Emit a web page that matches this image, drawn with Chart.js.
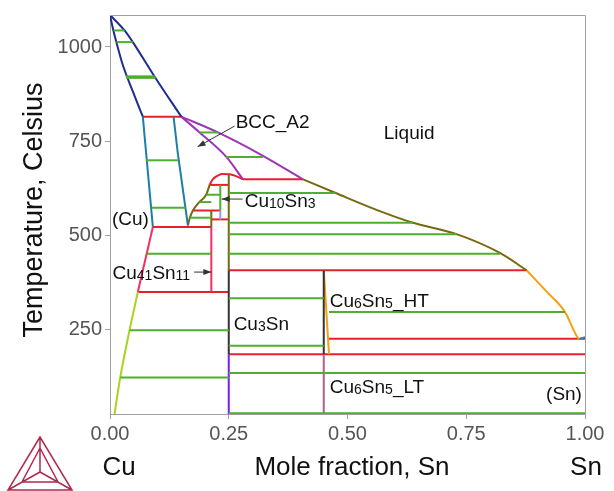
<!DOCTYPE html>
<html>
<head>
<meta charset="utf-8">
<script src="https://cdn.jsdelivr.net/npm/chart.js@4.4.1/dist/chart.umd.min.js"></script>
<style>
  html, body { margin: 0; padding: 0; background: #fff; }
</style>
</head>
<body>
<canvas id="phaseChart" width="614" height="491"></canvas>
<script>
// axis ticks
const xTicks = [0, 0.25, 0.5, 0.75, 1.0];
const yTicks = [250, 500, 750, 1000];

// phase boundaries, [mole fraction Sn, T in Celsius]
const fccLiquidus = [[0, 1085], [0.0306, 1044], [0.048, 1013], [0.094, 921], [0.150, 815]];
const fccSolidus = [[0, 1085], [0.006, 1050], [0.013, 1015], [0.027, 952], [0.048, 882], [0.0691, 815]];
const bccLiquidus = [[0.150, 815], [0.2272, 773], [0.322, 711], [0.4063, 648.5]];
const bccSolidus = [[0.150, 815], [0.1886, 773], [0.2449, 708], [0.2799, 648.5]];
const fccSolvusHigh = [[0.0691, 815], [0.0902, 522]];
const bccSolvus = [[0.1338, 815], [0.1429, 716], [0.164, 526]];
const gammaLeft = [[0.164, 526], [0.168, 546], [0.1745, 565.6], [0.188, 588], [0.2027, 608], [0.2097, 633.6]];
const gammaTop = [[0.2097, 633.6], [0.216, 648], [0.225, 657], [0.236, 662.5], [0.252, 662], [0.265, 657], [0.2799, 648.5]];
const gammaLiquidus = [[0.4063, 648.5], [0.475, 612], [0.568, 564], [0.638, 533], [0.7296, 503], [0.8209, 453], [0.8771, 407]];
const cu6sn5Liquidus = [[0.8771, 407], [0.9193, 350], [0.9579, 296], [0.9825, 232], [0.9874, 224]];
const deltaSolvus = [[0.0902, 522], [0.0586, 349]];
const fccSolvusLow = [[0.0586, 349], [0.0411, 247.4], [0.0215, 121.8], [0.0095, 25]];
const snSolvus = [[0.99, 225], [1.0, 229]];

// vertical compound lines [x, T top, T bottom]
const cu10sn3Line = [0.2322, 633.6, 565.6];
const cu10sn3Low = [0.2322, 565.6, 542];
const cu41sn11Top = [0.2133, 565.6, 522];
const cu41sn11Line = [0.2133, 522, 349];
const cu3snHigh = [0.25, 662, 407];
const cu3snMid = [0.25, 407, 184];
const cu3snLow = [0.25, 184, 25];
const cu6sn5HT = [0.45, 407, 184];
const cu6sn5LT = [0.45, 184, 25];
const cu6sn5HTRight = [[0.45, 407], [0.4611, 184]];

// tie lines [T, x from, x to]
const tieLines = [
  [1044, 0.0075, 0.0306], [1013, 0.0135, 0.048], [922, 0.033, 0.094], [918, 0.034, 0.096],
  [773, 0.1886, 0.2272], [708, 0.2449, 0.322],
  [699, 0.0763, 0.1429], [572.7, 0.0875, 0.159],
  [607.5, 0.2027, 0.2322], [588, 0.188, 0.2133], [546.5, 0.168, 0.2133],
  [612, 0.25, 0.475], [533.4, 0.25, 0.638], [502.8, 0.25, 0.7296], [451, 0.25, 0.8209],
  [451, 0.077, 0.2133],
  [247.4, 0.0411, 0.25], [121.8, 0.0215, 0.25],
  [332.7, 0.25, 0.45], [206.3, 0.25, 0.45], [134, 0.25, 1.0], [27, 0.25, 1.0],
  [296, 0.4611, 0.9579]
];

// invariant reactions [T, x from, x to]
const invariants = [
  [815, 0.0691, 0.150], [648.5, 0.2799, 0.4063], [633.6, 0.2097, 0.25],
  [565.6, 0.1745, 0.2322], [542, 0.2133, 0.25], [522, 0.0902, 0.2133],
  [407, 0.25, 0.8771], [349, 0.0586, 0.25], [225, 0.4611, 1.0], [184, 0.25, 1.0]
];

// phase labels: text parts ([text, isSub]), x, T
const phaseLabels = [
  { parts: [['BCC_A2', 0]], x: 0.2645, t: 803 },
  { parts: [['Liquid', 0]], x: 0.5764, t: 774 },
  { parts: [['(Cu)', 0]], x: 0.004, t: 546 },
  { parts: [['Cu', 0], ['10', 1], ['Sn', 0], ['3', 1]], x: 0.2835, t: 593 },
  { parts: [['Cu', 0], ['41', 1], ['Sn', 0], ['11', 1]], x: 0.0053, t: 402 },
  { parts: [['Cu', 0], ['3', 1], ['Sn', 0]], x: 0.2603, t: 266 },
  { parts: [['Cu', 0], ['6', 1], ['Sn', 0], ['5', 1], ['_HT', 0]], x: 0.4627, t: 329 },
  { parts: [['Cu', 0], ['6', 1], ['Sn', 0], ['5', 1], ['_LT', 0]], x: 0.4627, t: 99 },
  { parts: [['(Sn)', 0]], x: 0.918, t: 80 }
];
// pointer arrows [x from, T from, x to, T to]
const arrows = [
  [0.2624, 790, 0.1844, 735],
  [0.2792, 596, 0.2350, 596],
  [0.1770, 402, 0.2133, 402]
];

const FONT = '"Liberation Sans", Arial, Helvetica, sans-serif';
const GREEN = '#4fae2f', RED = '#e8202e', PINK = '#f2305e', NAVY = '#1f2d8f',
      PURPLE = '#9b35b5', TEAL = '#1c7fa3', OLIVE = '#77690f', ORANGE = '#f5a00f',
      LIME = '#a8d41c', VIOLET = '#7a1cff', DARK = '#333333', MAUVE = '#b0608f';

function line(points, color, width, smooth) {
  // monotone spline needs points ordered along x
  const pts = smooth ? points.slice().sort((a, b) => a[0] - b[0]) : points;
  return {
    data: pts.map(p => ({ x: p[0], y: p[1] })),
    showLine: true,
    borderColor: color,
    borderWidth: width || 2,
    pointRadius: 0,
    cubicInterpolationMode: smooth ? 'monotone' : 'default',
    tension: 0,
    fill: false
  };
}
function vline(v, color) {
  return line([[v[0], v[1]], [v[0], v[2]]], color, 2);
}

const datasets = [];
tieLines.forEach(([t, x1, x2]) => datasets.push(line([[x1, t], [x2, t]], GREEN, 2)));
datasets.push(line(fccLiquidus, NAVY, 2, true));
datasets.push(line(fccSolidus, NAVY, 2, true));
datasets.push(line(bccLiquidus, PURPLE, 2, true));
datasets.push(line(bccSolidus, PURPLE, 2, true));
datasets.push(line(fccSolvusHigh, TEAL, 2));
datasets.push(line(bccSolvus, TEAL, 2));
datasets.push(line(gammaLeft, OLIVE, 2, true));
datasets.push(line(gammaLiquidus, OLIVE, 2, true));
datasets.push(line(cu6sn5Liquidus, ORANGE, 2, true));
datasets.push(line(deltaSolvus, PINK, 2));
datasets.push(line(fccSolvusLow, LIME, 2, true));
datasets.push(line(snSolvus, '#2080e0', 2));
datasets.push(vline(cu10sn3Line, GREEN));
datasets.push(vline(cu10sn3Low, '#8c9cff'));
datasets.push(vline(cu41sn11Top, OLIVE));
datasets.push(vline(cu41sn11Line, PINK));
datasets.push(vline(cu3snHigh, OLIVE));
datasets.push(vline(cu3snMid, DARK));
datasets.push(vline(cu3snLow, VIOLET));
datasets.push(vline(cu6sn5HT, DARK));
datasets.push(line(cu6sn5HTRight, ORANGE, 2));
datasets.push(vline(cu6sn5LT, MAUVE));
invariants.forEach(([t, x1, x2]) => datasets.push(line([[x1, t], [x2, t]], RED, 2)));
datasets.push(line(gammaTop, RED, 2, true));

function drawChem(ctx, parts, x, y) {
  let cx = x;
  parts.forEach(([txt, sub]) => {
    ctx.font = (sub ? '14px ' : '19px ') + FONT;
    ctx.fillText(txt, cx, sub ? y + 1 : y);
    cx += ctx.measureText(txt).width;
  });
}

const decorations = {
  id: 'decorations',
  afterDatasetsDraw(chart) {
    const { ctx, scales: { x, y } } = chart;
    ctx.save();
    ctx.fillStyle = '#111';
    ctx.textBaseline = 'alphabetic';
    ctx.textAlign = 'left';
    phaseLabels.forEach(l => drawChem(ctx, l.parts, x.getPixelForValue(l.x), y.getPixelForValue(l.t) + 7));
    ctx.strokeStyle = '#333';
    ctx.fillStyle = '#333';
    ctx.lineWidth = 1;
    arrows.forEach(([x1, t1, x2, t2]) => {
      const px1 = x.getPixelForValue(x1), py1 = y.getPixelForValue(t1);
      const px2 = x.getPixelForValue(x2), py2 = y.getPixelForValue(t2);
      const ang = Math.atan2(py2 - py1, px2 - px1);
      ctx.beginPath(); ctx.moveTo(px1, py1); ctx.lineTo(px2, py2); ctx.stroke();
      ctx.beginPath();
      ctx.moveTo(px2, py2);
      ctx.lineTo(px2 - 8 * Math.cos(ang) + 3 * Math.sin(ang), py2 - 8 * Math.sin(ang) - 3 * Math.cos(ang));
      ctx.lineTo(px2 - 8 * Math.cos(ang) - 3 * Math.sin(ang), py2 - 8 * Math.sin(ang) + 3 * Math.cos(ang));
      ctx.closePath(); ctx.fill();
    });
    ctx.restore();
  },
  afterDraw(chart) {
    const { ctx, chartArea: a } = chart;
    ctx.save();
    // frame top and right
    ctx.strokeStyle = '#a0a0a0';
    ctx.lineWidth = 1;
    ctx.beginPath();
    ctx.moveTo(a.left, a.top + 0.5);
    ctx.lineTo(a.right + 0.5, a.top + 0.5);
    ctx.lineTo(a.right + 0.5, a.bottom);
    ctx.stroke();
    // axis titles
    ctx.fillStyle = '#111';
    ctx.font = '26px ' + FONT;
    ctx.textAlign = 'center';
    ctx.textBaseline = 'middle';
    ctx.fillText('Mole fraction, Sn', 352, 468);
    ctx.fillText('Cu', 119, 468);
    ctx.fillText('Sn', 586, 468);
    ctx.font = '27px ' + FONT;
    ctx.translate(35, 210);
    ctx.rotate(-Math.PI / 2);
    ctx.fillText('Temperature, Celsius', 0, 0);
    ctx.restore();
    // logo
    ctx.save();
    ctx.strokeStyle = '#b02a4e';
    ctx.lineWidth = 1.5;
    const A = [40, 437], B = [8, 490], C = [72, 490], D = [40, 472];
    const a2 = [40, 448], b2 = [22, 482], c2 = [58, 482];
    ctx.beginPath();
    ctx.moveTo(...A); ctx.lineTo(...B); ctx.lineTo(...C); ctx.closePath();
    ctx.moveTo(...A); ctx.lineTo(...D);
    ctx.moveTo(...B); ctx.lineTo(...D);
    ctx.moveTo(...C); ctx.lineTo(...D);
    ctx.moveTo(...a2); ctx.lineTo(...b2); ctx.lineTo(...c2); ctx.closePath();
    ctx.stroke();
    ctx.restore();
  }
};

new Chart(document.getElementById('phaseChart'), {
  type: 'scatter',
  data: { datasets: datasets },
  plugins: [decorations],
  options: {
    responsive: false,
    animation: false,
    layout: { padding: { top: 9, right: 29, left: 0, bottom: 0 } },
    plugins: { legend: { display: false }, tooltip: { enabled: false } },
    scales: {
      x: {
        type: 'linear', min: 0, max: 1,
        afterFit: s => { s.height = 77; },
        afterBuildTicks: s => { s.ticks = xTicks.map(v => ({ value: v })); },
        ticks: { callback: v => v.toFixed(2), font: { family: FONT, size: 20 }, color: '#555', padding: 3, maxRotation: 0 },
        grid: { drawOnChartArea: false, drawTicks: true, tickLength: 5, color: '#a0a0a0' },
        border: { color: '#a0a0a0' }
      },
      y: {
        type: 'linear', min: 25, max: 1085,
        afterFit: s => { s.width = 110; },
        afterBuildTicks: s => { s.ticks = yTicks.map(v => ({ value: v })); },
        ticks: { callback: v => String(v), font: { family: FONT, size: 20 }, color: '#555', padding: 3 },
        grid: { drawOnChartArea: false, drawTicks: true, tickLength: 5, color: '#a0a0a0' },
        border: { color: '#a0a0a0' }
      }
    }
  }
});
</script>
</body>
</html>
